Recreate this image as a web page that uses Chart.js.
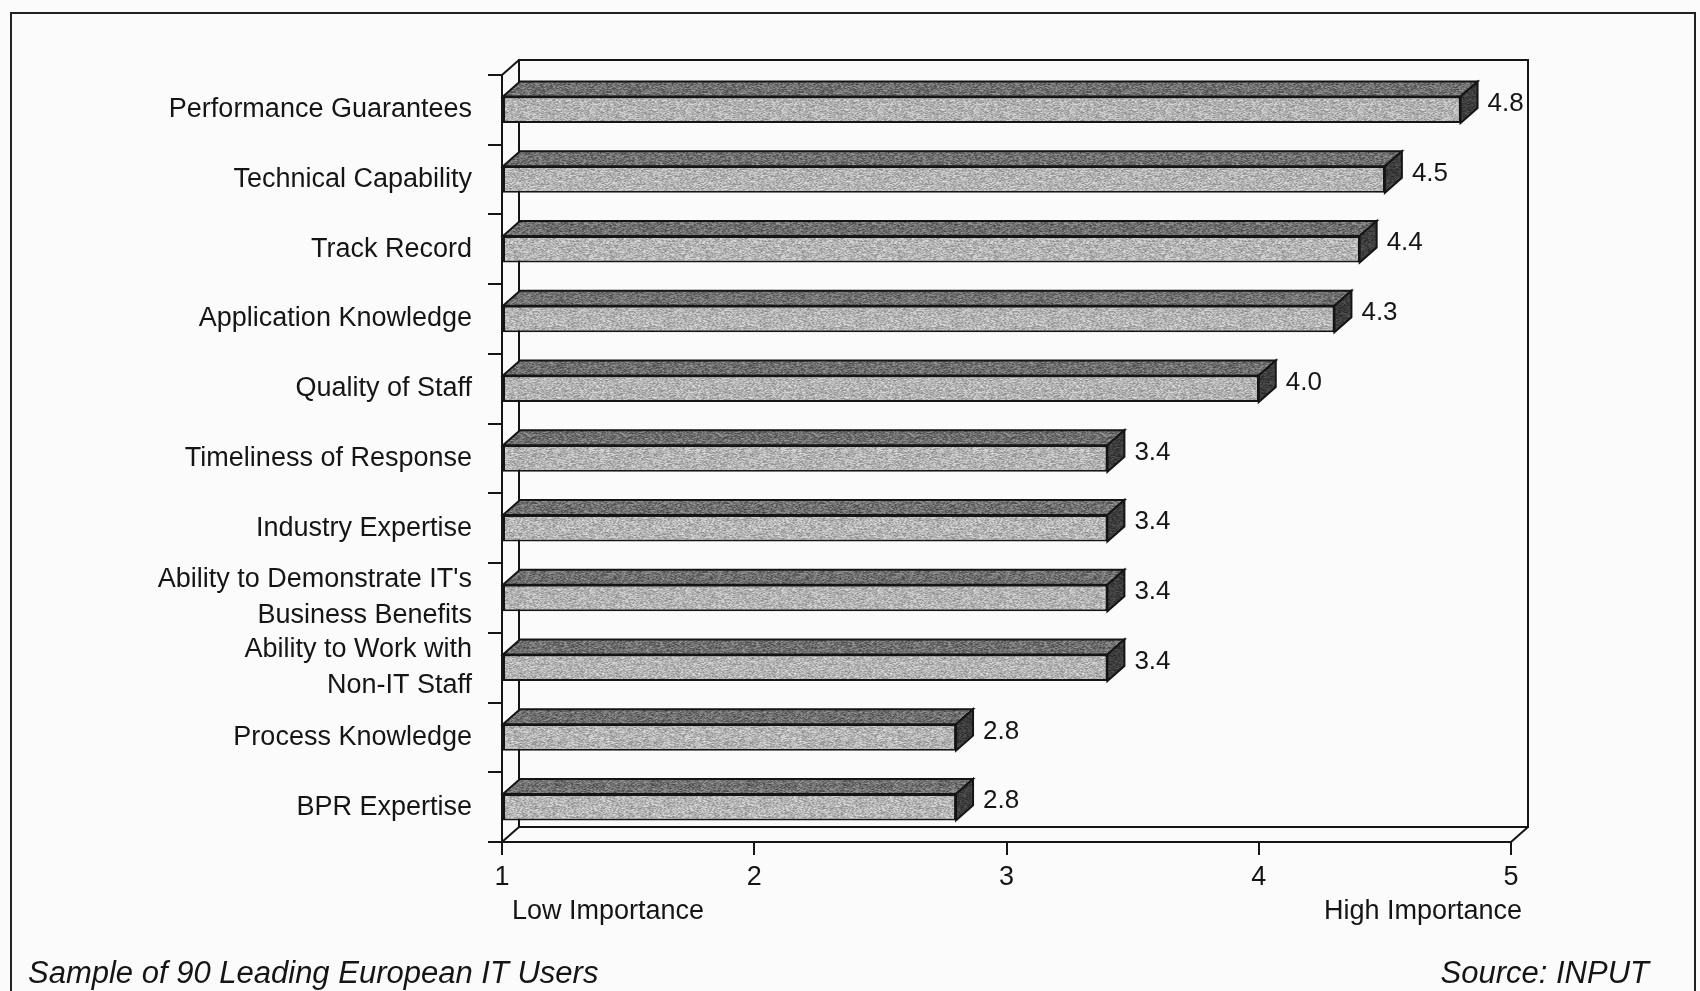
<!DOCTYPE html>
<html>
<head>
<meta charset="utf-8">
<title>Vendor Selection Criteria</title>
<script src="https://cdn.jsdelivr.net/npm/chart.js@4.4.1/dist/chart.umd.min.js"></script>
<style>
  html, body { margin: 0; padding: 0; background: #fbfbfb; }
  #wrap { position: relative; width: 1700px; height: 991px; }
  canvas { display: block; }
</style>
</head>
<body>
<div id="wrap"><canvas id="chart" width="1700" height="991"></canvas></div>
<script>
// ---- data ----
const categories = [
  "Performance Guarantees",
  "Technical Capability",
  "Track Record",
  "Application Knowledge",
  "Quality of Staff",
  "Timeliness of Response",
  "Industry Expertise",
  ["Ability to Demonstrate IT's", "Business Benefits"],
  ["Ability to Work with", "Non-IT Staff"],
  "Process Knowledge",
  "BPR Expertise"
];
const importance = [4.8, 4.5, 4.4, 4.3, 4.0, 3.4, 3.4, 3.4, 3.4, 2.8, 2.8];
const scaleTicks = [1, 2, 3, 4, 5];
const scaleEnds = ["Low Importance", "High Importance"];
const footNote = "Sample of 90 Leading European IT Users";
const sourceNote = "Source: INPUT";

// ---- styling ----
const FONT = '"Liberation Sans", Arial, Helvetica, sans-serif';
const INK = '#151515';
const DX = 17;   // depth offset of the 3D box, horizontal
const DY = 15;   // depth offset of the 3D box, vertical

// grainy fill used on the bar faces (deterministic hash noise)
function speckle(base, amp, seed) {
  const size = 96;
  const c = document.createElement('canvas');
  c.width = size; c.height = size;
  const g = c.getContext('2d');
  const img = g.createImageData(size, size);
  let s = seed >>> 0;
  const next = () => { s = (s * 1664525 + 1013904223) >>> 0; return s / 4294967296; };
  const cell = [];
  for (let i = 0; i < size * size; i++) cell.push(next());
  for (let y = 0; y < size; y++) {
    for (let x = 0; x < size; x++) {
      const a = cell[y * size + x];
      const b = cell[y * size + ((x + 1) % size)];
      const n = (a * 0.6 + b * 0.4) - 0.5;
      const v = Math.max(0, Math.min(255, Math.round(base + n * amp * 2)));
      const k = (y * size + x) * 4;
      img.data[k] = v; img.data[k + 1] = v; img.data[k + 2] = v; img.data[k + 3] = 255;
    }
  }
  g.putImageData(img, 0, 0);
  const ctx = document.getElementById('chart').getContext('2d');
  return ctx.createPattern(c, 'repeat');
}

const frontFill = speckle(180, 46, 7);
const topFill = speckle(112, 46, 19);
const sideFill = speckle(62, 26, 31);

function line(ctx, pts) {
  ctx.beginPath();
  ctx.moveTo(pts[0][0], pts[0][1]);
  for (let i = 1; i < pts.length; i++) ctx.lineTo(pts[i][0], pts[i][1]);
  ctx.stroke();
}

const boxPlugin = {
  id: 'box3d',
  beforeDraw(chart) {
    const ctx = chart.ctx;
    const { left, right, top, bottom } = chart.chartArea;
    ctx.save();
    ctx.fillStyle = '#fbfbfb';
    ctx.fillRect(0, 0, chart.width, chart.height);

    // page frame
    ctx.strokeStyle = '#222';
    ctx.lineWidth = 2;
    line(ctx, [[11, 991], [11, 13], [1695, 13], [1695, 991]]);

    // back wall and depth edges
    ctx.strokeStyle = INK;
    ctx.lineWidth = 2;
    ctx.strokeRect(left + DX, top - DY, right - left, bottom - top);
    line(ctx, [[left, top], [left + DX, top - DY]]);
    line(ctx, [[left, bottom], [left + DX, bottom - DY]]);
    line(ctx, [[right, bottom], [right + DX, bottom - DY]]);
    ctx.restore();
  },
  afterDatasetsDraw(chart) {
    const ctx = chart.ctx;
    const meta = chart.getDatasetMeta(0);
    const values = chart.data.datasets[0].data;
    ctx.save();
    ctx.strokeStyle = INK;
    ctx.lineWidth = 2;
    ctx.lineJoin = 'miter';
    meta.data.forEach((bar, i) => {
      const p = bar.getProps(['x', 'y', 'base', 'height'], true);
      const x0 = p.base, x1 = p.x;
      const yT = p.y - p.height / 2, yB = p.y + p.height / 2;
      // top face
      ctx.beginPath();
      ctx.moveTo(x0, yT);
      ctx.lineTo(x0 + DX, yT - DY);
      ctx.lineTo(x1 + DX, yT - DY);
      ctx.lineTo(x1, yT);
      ctx.closePath();
      ctx.fillStyle = topFill;
      ctx.fill();
      ctx.stroke();
      // end face
      ctx.beginPath();
      ctx.moveTo(x1, yT);
      ctx.lineTo(x1 + DX, yT - DY);
      ctx.lineTo(x1 + DX, yB - DY);
      ctx.lineTo(x1, yB);
      ctx.closePath();
      ctx.fillStyle = sideFill;
      ctx.fill();
      ctx.stroke();
      // value label
      ctx.fillStyle = INK;
      ctx.font = '26px ' + FONT;
      ctx.textAlign = 'left';
      ctx.textBaseline = 'middle';
      ctx.fillText(Number(values[i]).toFixed(1), x1 + DX + 10, p.y - 6);
    });
    ctx.restore();
  },
  afterDraw(chart) {
    const ctx = chart.ctx;
    const { left, right } = chart.chartArea;
    ctx.save();
    ctx.fillStyle = INK;
    ctx.textBaseline = 'alphabetic';
    ctx.font = '27px ' + FONT;
    ctx.textAlign = 'left';
    ctx.fillText(scaleEnds[0], left + 10, 919);
    ctx.textAlign = 'right';
    ctx.fillText(scaleEnds[1], right + 11, 919);
    ctx.font = 'italic 31px ' + FONT;
    ctx.textAlign = 'left';
    ctx.fillText(footNote, 28, 983);
    ctx.textAlign = 'right';
    ctx.fillText(sourceNote, 1649, 983);
    ctx.restore();
  }
};

new Chart(document.getElementById('chart'), {
  type: 'bar',
  data: {
    labels: categories,
    datasets: [{
      data: importance,
      base: scaleTicks[0],
      backgroundColor: frontFill,
      borderColor: INK,
      borderWidth: 2,
      borderSkipped: false,
      barPercentage: 0.38,
      categoryPercentage: 1
    }]
  },
  options: {
    indexAxis: 'y',
    responsive: false,
    animation: false,
    devicePixelRatio: 1,
    layout: { padding: { top: 75, right: 189, bottom: 0, left: 0 } },
    plugins: {
      legend: { display: false },
      tooltip: { enabled: false },
      title: { display: false }
    },
    scales: {
      x: {
        type: 'linear',
        position: 'bottom',
        min: scaleTicks[0],
        max: scaleTicks[scaleTicks.length - 1],
        afterBuildTicks: (s) => { s.ticks = scaleTicks.map(v => ({ value: v })); },
        afterFit: (s) => { s.height = 149; },
        ticks: {
          color: INK,
          font: { family: FONT, size: 27 },
          padding: 6,
          maxRotation: 0,
          callback: (v) => String(v)
        },
        grid: { drawOnChartArea: false, drawTicks: true, tickLength: 13, color: INK, lineWidth: 2 },
        border: { display: true, color: INK, width: 2 }
      },
      y: {
        type: 'category',
        position: 'left',
        offset: true,
        afterFit: (s) => { s.width = 502; },
        ticks: {
          color: INK,
          font: { family: FONT, size: 27, lineHeight: 1.33 },
          padding: 16,
          autoSkip: false
        },
        grid: { offset: true, drawOnChartArea: false, drawTicks: true, tickLength: 14, color: INK, lineWidth: 2 },
        border: { display: true, color: INK, width: 2 }
      }
    }
  },
  plugins: [boxPlugin]
});
</script>
</body>
</html>
